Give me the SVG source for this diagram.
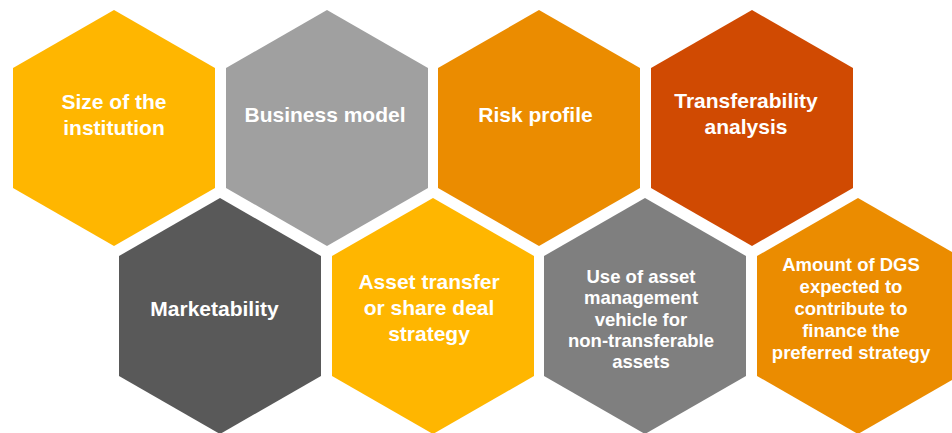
<svg xmlns="http://www.w3.org/2000/svg" width="952" height="433" viewBox="0 0 952 433">
<defs>
<style>
.t{font-family:"Liberation Sans",Arial,sans-serif;font-weight:bold;fill:#FFFFFF;text-anchor:middle;font-size:21px}
.s{font-size:18.5px}
</style>
<polygon id="hex" points="0,-118 101,-60 101,60 0,118 -101,60 -101,-60"/>
</defs>
<rect width="952" height="433" fill="#FFFFFF"/>
<g id="connectors"></g>
<g id="n1">
<use href="#hex" x="114" y="128" fill="#FFB600"/>
<text class="t" x="114" y="109">Size of the</text>
<text class="t" x="114" y="135">institution</text>
</g>
<g id="n2">
<use href="#hex" x="327" y="128" fill="#A0A0A0"/>
<text class="t" x="325" y="122">Business model</text>
</g>
<g id="n3">
<use href="#hex" x="539" y="128" fill="#EB8C00"/>
<text class="t" x="535.5" y="122">Risk profile</text>
</g>
<g id="n4">
<use href="#hex" x="752" y="128" fill="#D04A02"/>
<text class="t" x="746" y="107.5">Transferability</text>
<text class="t" x="746" y="133.5">analysis</text>
</g>
<g id="n5">
<use href="#hex" x="220" y="316" fill="#595959"/>
<text class="t" x="214.5" y="316">Marketability</text>
</g>
<g id="n6">
<use href="#hex" x="433" y="316" fill="#FFB600"/>
<text class="t" x="429" y="288.5">Asset transfer</text>
<text class="t" x="429" y="315">or share deal</text>
<text class="t" x="429" y="341">strategy</text>
</g>
<g id="n7">
<use href="#hex" x="645" y="316" fill="#7F7F7F"/>
<text class="t s" x="641" y="282.5">Use of asset</text>
<text class="t s" x="641" y="304">management</text>
<text class="t s" x="641" y="325.5">vehicle for</text>
<text class="t s" x="641" y="347">non-transferable</text>
<text class="t s" x="641" y="368">assets</text>
</g>
<g id="n8">
<use href="#hex" x="858" y="316" fill="#EB8C00"/>
<text class="t s" x="851" y="271">Amount of DGS</text>
<text class="t s" x="851" y="293">expected to</text>
<text class="t s" x="851" y="315">contribute to</text>
<text class="t s" x="851" y="337">finance the</text>
<text class="t s" x="851" y="359">preferred strategy</text>
</g>
</svg>
